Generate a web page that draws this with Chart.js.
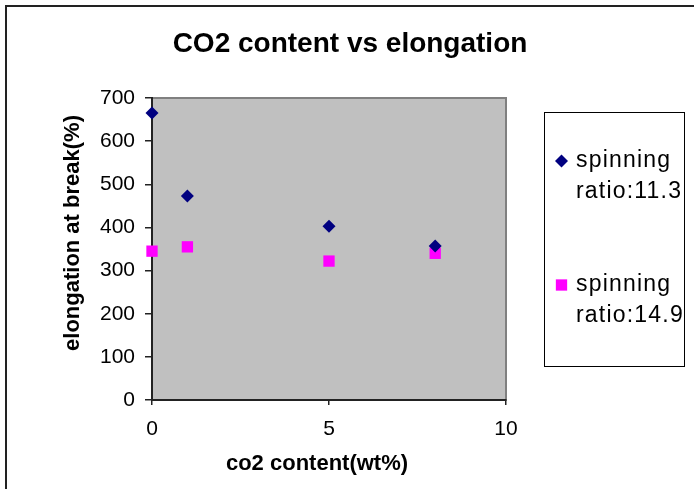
<!DOCTYPE html>
<html>
<head>
<meta charset="utf-8">
<script src="https://cdn.jsdelivr.net/npm/chart.js@4.4.1/dist/chart.umd.min.js"></script>
<style>
  html, body { margin: 0; padding: 0; background: #fff; }
  #wrap { width: 694px; height: 489px; }
</style>
</head>
<body>
<div id="wrap"><canvas id="co2Chart" width="694" height="489"></canvas></div>
<script>
// co2 content (wt%) and elongation at break (%) for the two spinning ratios
const co2Content = [0, 1, 5, 8];
const elongationRatio113 = [665, 473, 403, 357];
const elongationRatio149 = [345, 355, 322, 340];
const seriesNames = ['spinning ratio:11.3', 'spinning ratio:14.9'];

const xMin = 0, xMax = 10, xStep = 5;
const yMin = 0, yMax = 700, yStep = 100;

const FONT = '"Liberation Sans", Arial, sans-serif';

function toPoints(ys) {
    return co2Content.map((x, i) => ({ x: x, y: ys[i] }));
}

// plot background, outer frame, titles and the boxed legend
const excelFrame = {
    id: 'excelFrame',
    beforeDraw(chart) {
        const { ctx, chartArea: a } = chart;
        ctx.save();
        ctx.fillStyle = '#fff';
        ctx.fillRect(0, 0, chart.width, chart.height);

        ctx.strokeStyle = '#222';
        ctx.lineWidth = 2;
        ctx.strokeRect(6, 6, 760, 560);

        ctx.fillStyle = '#c0c0c0';
        ctx.fillRect(a.left, a.top, a.right - a.left, a.bottom - a.top);
        ctx.strokeStyle = '#808080';
        ctx.lineWidth = 2;
        ctx.strokeRect(a.left, a.top, a.right - a.left, a.bottom - a.top);
        ctx.restore();
    },
    afterDraw(chart) {
        const ctx = chart.ctx;
        ctx.save();
        ctx.fillStyle = '#000';
        ctx.textAlign = 'center';
        ctx.textBaseline = 'middle';

        ctx.font = 'bold 28px ' + FONT;
        ctx.fillText('CO2 content vs elongation', 350, 44);

        ctx.font = 'bold 22px ' + FONT;
        ctx.fillText('co2 content(wt%)', 317, 464);

        ctx.save();
        ctx.translate(73, 233);
        ctx.rotate(-Math.PI / 2);
        ctx.fillText('elongation at break(%)', 0, 0);
        ctx.restore();

        // legend box
        ctx.strokeStyle = '#000';
        ctx.lineWidth = 1;
        ctx.strokeRect(544.5, 112.5, 140, 254);

        ctx.textAlign = 'left';
        ctx.textBaseline = 'alphabetic';
        ctx.font = '23px ' + FONT;
        ctx.letterSpacing = '1.2px';
        chart.data.datasets.forEach((ds, i) => {
            const y = 161 + i * 124;
            ctx.fillStyle = ds.backgroundColor;
            Chart.helpers.drawPoint(ctx, {
                pointStyle: ds.pointStyle,
                radius: ds.pointRadius,
                borderWidth: 0,
                rotation: 0
            }, 561.5, y);
            ctx.fillStyle = '#000';
            const words = ds.label.split(' ');
            ctx.fillText(words[0], 576, y + 6);
            ctx.fillText(words.slice(1).join(' '), 576, y + 37);
        });
        ctx.restore();
    }
};

new Chart(document.getElementById('co2Chart'), {
    type: 'scatter',
    data: {
        datasets: [
            {
                label: seriesNames[0],
                data: toPoints(elongationRatio113),
                pointStyle: 'rectRot',
                pointRadius: 6.5,
                pointHoverRadius: 6.5,
                backgroundColor: '#000080',
                borderColor: '#000080',
                borderWidth: 0,
                clip: false
            },
            {
                label: seriesNames[1],
                data: toPoints(elongationRatio149),
                pointStyle: 'rect',
                pointRadius: 8,
                pointHoverRadius: 8,
                backgroundColor: '#ff00ff',
                borderColor: '#ff00ff',
                borderWidth: 0,
                clip: false
            }
        ]
    },
    options: {
        responsive: false,
        animation: false,
        devicePixelRatio: 1,
        layout: { padding: { left: 0, top: 98, right: 188, bottom: 0 } },
        plugins: {
            legend: { display: false },
            title: { display: false },
            tooltip: { enabled: false }
        },
        scales: {
            x: {
                type: 'linear',
                min: xMin,
                max: xMax,
                afterFit: (scale) => { scale.height = 89; },
                border: { color: '#222', width: 2 },
                grid: { drawOnChartArea: false, color: '#222', lineWidth: 1.5, tickLength: 5 },
                ticks: {
                    stepSize: xStep,
                    color: '#000',
                    padding: 12,
                    font: { family: FONT, size: 21 }
                }
            },
            y: {
                type: 'linear',
                min: yMin,
                max: yMax,
                afterFit: (scale) => { scale.width = 152; },
                border: { color: '#222', width: 2 },
                grid: { drawOnChartArea: false, color: '#222', lineWidth: 1.5, tickLength: 7 },
                ticks: {
                    stepSize: yStep,
                    color: '#000',
                    padding: 10,
                    font: { family: FONT, size: 21 }
                }
            }
        }
    },
    plugins: [excelFrame]
});
</script>
</body>
</html>
